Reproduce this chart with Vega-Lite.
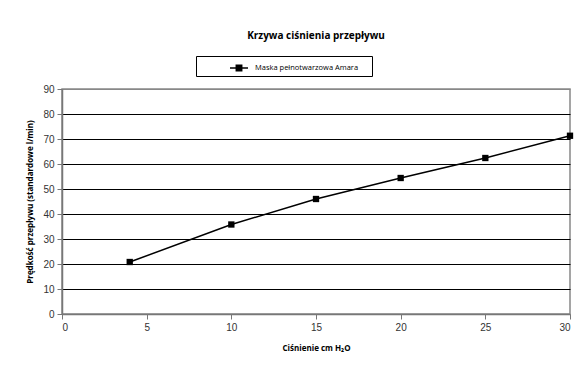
{
  "$schema": "https://vega.github.io/schema/vega-lite/v6.json",
  "autosize": {"type": "none"},
  "width": 508,
  "height": 225,
  "padding": {"left": 62, "top": 89, "right": 12, "bottom": 51},
  "background": "white",
  "title": {
    "text": "Krzywa ciśnienia przepływu",
    "font": "Open Sans",
    "fontSize": 10,
    "fontWeight": "bold",
    "color": "black",
    "anchor": "middle",
    "frame": "group",
    "offset": 15
  },
  "config": {
    "view": {"stroke": "#888888", "strokeWidth": 1.5},
    "axis": {
      "labelFont": "Liberation Sans",
      "labelFontSize": 10,
      "labelColor": "#333333",
      "titleFont": "Open Sans",
      "titleFontSize": 8,
      "titleFontWeight": "bold",
      "titleColor": "black",
      "domainColor": "#777777",
      "domainWidth": 1.5,
      "tickColor": "#777777",
      "tickSize": 5
    }
  },
  "data": {
    "values": [
      {"cisnienie": 4, "predkosc": 20.8, "seria": "Maska pełnotwarzowa Amara"},
      {"cisnienie": 10, "predkosc": 35.8, "seria": "Maska pełnotwarzowa Amara"},
      {"cisnienie": 15, "predkosc": 46.0, "seria": "Maska pełnotwarzowa Amara"},
      {"cisnienie": 20, "predkosc": 54.4, "seria": "Maska pełnotwarzowa Amara"},
      {"cisnienie": 25, "predkosc": 62.4, "seria": "Maska pełnotwarzowa Amara"},
      {"cisnienie": 30, "predkosc": 71.3, "seria": "Maska pełnotwarzowa Amara"}
    ]
  },
  "encoding": {
    "x": {
      "field": "cisnienie",
      "type": "quantitative",
      "scale": {"domain": [0, 30], "nice": false},
      "axis": {
        "title": "Ciśnienie cm H₂O",
        "values": [0, 5, 10, 15, 20, 25, 30],
        "grid": false,
        "labelPadding": 3,
        "titlePadding": 12
      }
    },
    "y": {
      "field": "predkosc",
      "type": "quantitative",
      "scale": {"domain": [0, 90], "nice": false},
      "axis": {
        "title": "Prędkość przepływu (standardowe l/min)",
        "values": [0, 10, 20, 30, 40, 50, 60, 70, 80, 90],
        "grid": true,
        "gridColor": {"condition": {"test": "datum.value == 0 || datum.value == 90", "value": "#888888"}, "value": "black"},
        "gridWidth": 1,
        "labelPadding": 3,
        "titlePadding": 8
      }
    },
    "color": {
      "field": "seria",
      "type": "nominal",
      "scale": {"range": ["black"]},
      "legend": {
        "title": null,
        "orient": "none",
        "legendX": 134,
        "legendY": -33,
        "direction": "horizontal",
        "strokeColor": "black",
        "fillColor": "white",
        "padding": 2,
        "symbolOffset": 31,
        "symbolType": "M -1 0 L 1 0 M -0.3 -0.3 L 0.3 -0.3 L 0.3 0.3 L -0.3 0.3 Z",
        "symbolSize": 324,
        "symbolStrokeWidth": 1.5,
        "symbolFillColor": "black",
        "symbolStrokeColor": "black",
        "labelFont": "Open Sans",
        "labelFontSize": 7.5,
        "labelColor": "black",
        "labelOffset": 6,
        "labelLimit": 300,
        "labelExpr": "datum.label + '\u00a0\u00a0\u00a0\u2800'"
      }
    }
  },
  "layer": [
    {"mark": {"type": "line", "strokeWidth": 1.5}},
    {"mark": {"type": "square", "size": 40, "filled": true, "opacity": 1}}
  ]
}
